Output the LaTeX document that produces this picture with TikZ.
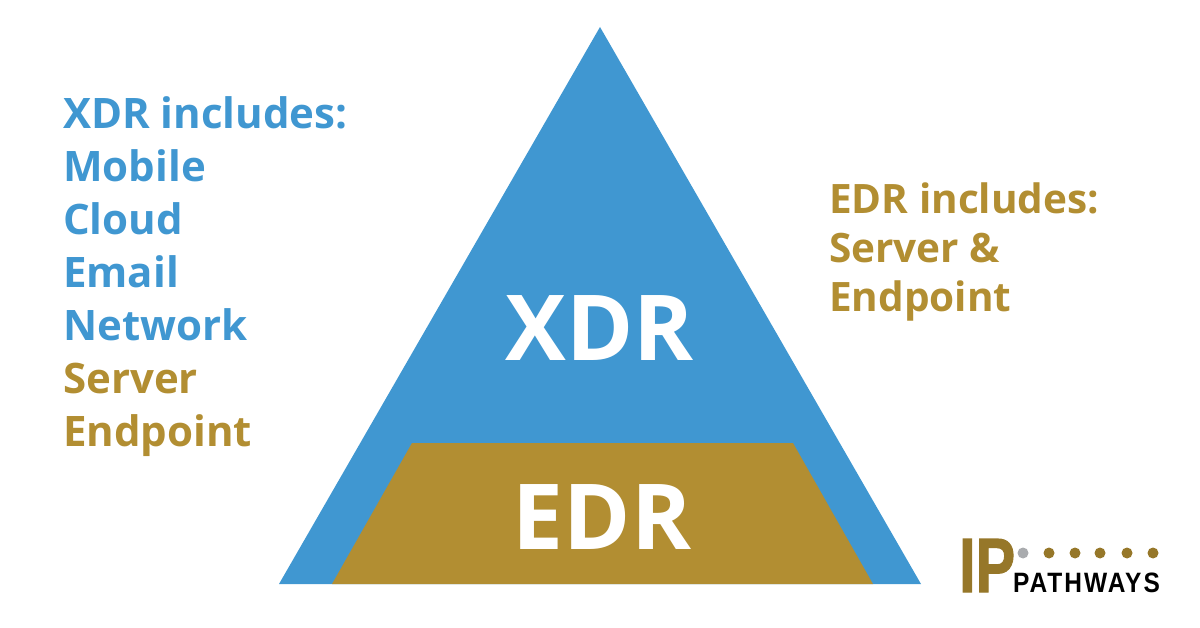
\documentclass[tikz,border=0pt]{standalone}
\usepackage{fontspec}
\usepackage{xcolor}
\setmainfont{Open Sans}
\newfontfamily\logofont{Liberation Sans}
\definecolor{xdrblue}{HTML}{4097D1}
\definecolor{edrgold}{HTML}{B28E32}
\definecolor{logogold}{HTML}{967729}
\definecolor{logogray}{HTML}{A9ABAE}
\tikzset{
    listtext/.style={inner sep=0pt, anchor=base west, align=left, font=\fontsize{42}{53}\selectfont\bfseries},
    bigtext/.style={inner sep=0pt, anchor=base, text=white, font=\fontsize{91}{92}\selectfont\bfseries},
    logodot/.style={circle, inner sep=0pt, minimum size=11pt, fill=logogold}
}
\begin{document}
\begin{tikzpicture}[x=1pt, y=-1pt]
    \useasboundingbox (0,0) rectangle (1200,628);
    \fill[xdrblue] (600,27) -- (921,584) -- (279,584) -- cycle;
    \fill[edrgold] (412,443) -- (793,443) -- (873,584) -- (332,584) -- cycle;
    \node[bigtext] (xdr) at (600,360) {XDR};
    \node[bigtext] (edr) at (602,549) {EDR};
    \node[listtext, text=xdrblue] (xdrlist) at (63,446) {XDR includes:\\Mobile\\Cloud\\Email\\Network\\\textcolor{edrgold}{Server}\\\textcolor{edrgold}{Endpoint}};
    \node[listtext, text=edrgold, font=\fontsize{40.5}{49}\selectfont\bfseries] (edrlist) at (829,312) {EDR includes:\\Server \&\\Endpoint};
    % logo
    \node[inner sep=0pt, anchor=base west, xscale=.77, text=logogold, font=\logofont\fontsize{77}{77}\selectfont\bfseries\addfontfeature{FakeBold=1.5}] (logoip) at (959,592) {IP};
    \node[inner sep=0pt, anchor=base west, xscale=.875, text=black, font=\logofont\fontsize{28}{28}\selectfont\bfseries\addfontfeature{LetterSpace=8}] (logoname) at (1013,592) {PATHWAYS};
    \node[logodot, fill=logogray] (dot0) at (1023,553) {};
    \foreach \i/\x in {1/1049,2/1075,3/1100,4/1127,5/1153}
        \node[logodot] (dot\i) at (\x,553) {};
\end{tikzpicture}
\end{document}
